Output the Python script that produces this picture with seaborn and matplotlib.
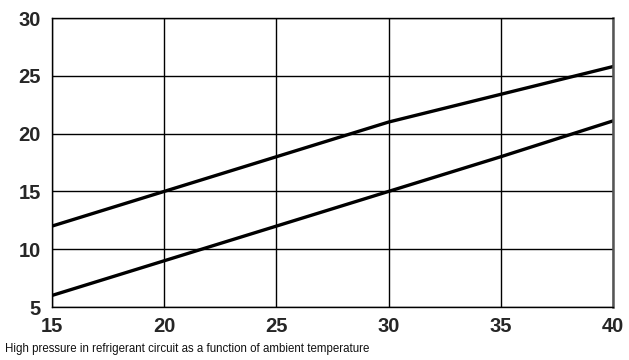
import matplotlib
matplotlib.use("Agg")
import matplotlib.pyplot as plt
import seaborn as sns
import pandas as pd

temps = [15, 20, 25, 30, 35, 40]
upper = [12, 15, 18, 21, 23.4, 25.8]
lower = [6, 9, 12, 15, 18, 21.1]
xticks = [15, 20, 25, 30, 35, 40]
yticks = [5, 10, 15, 20, 25, 30]
caption = "High pressure in refrigerant circuit as a function of ambient temperature"

df = pd.DataFrame({
    "temp": temps + temps,
    "pressure": upper + lower,
    "curve": ["upper"] * len(temps) + ["lower"] * len(temps),
})

sns.set_style("white")
plt.rcParams['font.family'] = ['Liberation Sans', 'DejaVu Sans']

fig = plt.figure(figsize=(6.29, 3.6), dpi=100)
ax = fig.add_axes([0.0827, 0.1472, 0.8919, 0.8028])

sns.lineplot(data=df, x="temp", y="pressure", hue="curve",
             palette={"upper": "black", "lower": "black"},
             linewidth=2.4, legend=False, ax=ax)

ax.set_xlim(15, 40)
ax.set_ylim(5, 30)
ax.set_xticks(xticks)
ax.set_yticks(yticks)
ax.set_xticklabels([str(t) for t in xticks], fontsize=14.5, fontweight="bold")
ax.set_yticklabels([str(t) for t in yticks], fontsize=14.5, fontweight="bold")
ax.tick_params(axis="y", length=0, pad=8)
ax.tick_params(axis="x", length=0, pad=7.5)
ax.grid(True, color="black", linewidth=1.0)
ax.set_xlabel("")
ax.set_ylabel("")
for side in ["left", "bottom", "top"]:
    ax.spines[side].set_color("black")
    ax.spines[side].set_linewidth(1.0)
ax.spines["right"].set_color("#555555")
ax.spines["right"].set_linewidth(1.8)

fig.text(0.008, 0.022, caption, fontsize=8.3, ha="left", va="baseline", color="#111111")

fig.savefig("out.png", dpi=100)
